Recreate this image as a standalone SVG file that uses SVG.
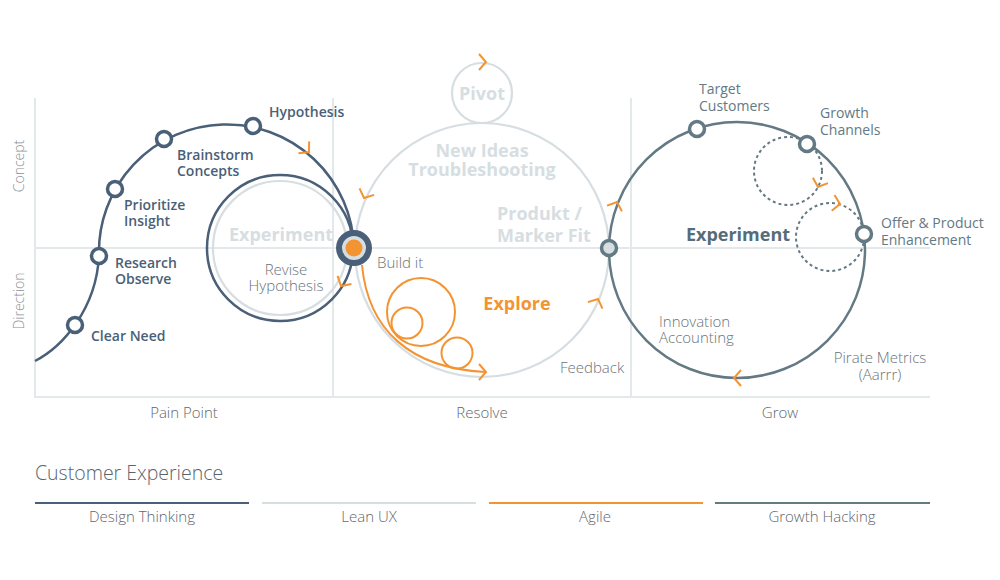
<svg xmlns="http://www.w3.org/2000/svg" xmlns:xlink="http://www.w3.org/1999/xlink" width="1000" height="580" viewBox="0 0 1000 580">
<style>
text{font-family:"Open Sans","Noto Sans","Liberation Sans",sans-serif}
.grid{stroke:#e3e8eb;stroke-width:2;fill:none}
.dt{stroke:#4a5f78;stroke-width:2.5;fill:none}
.lx{stroke:#d6dee2;stroke-width:2.2;fill:none}
.gh{stroke:#637983;stroke-width:2.5;fill:none}
.ag{stroke:#f39433;stroke-width:2;fill:none}
.dash{stroke:#637983;stroke-width:2;fill:none;stroke-dasharray:3 3}
.chev{stroke:#f39433;stroke-width:2;fill:none}
.lbl{font-size:14px;font-weight:600;fill:#4a5f78}
.rlbl{font-size:14px;font-weight:400;fill:#637983}
.thin{font-size:15px;font-weight:300;fill:#6a7378}
.big{font-size:18px;font-weight:700;fill:#d6dee2}
.axis{font-size:14px;font-weight:300;fill:#8a9095}
.foot{font-size:15px;font-weight:300;fill:#5f676c;text-anchor:middle}
.dn{fill:#fff;stroke:#4a5f78;stroke-width:3.5}
.gn{fill:#fff;stroke:#637983;stroke-width:3.5}
</style>
<defs>
<path id="chv" d="M-7,-8 L0,0 L-7,8"/>
</defs>
<g id="grid">
<line class="grid" x1="35" y1="98" x2="35" y2="397"/>
<line class="grid" x1="333" y1="98" x2="333" y2="397"/>
<line class="grid" x1="631" y1="98" x2="631" y2="397"/>
<line class="grid" x1="35" y1="248" x2="930" y2="248"/>
<line class="grid" x1="34" y1="397" x2="930" y2="397"/>
</g>
<g id="axis-labels">
<text class="axis" transform="translate(24,166) rotate(-90)" text-anchor="middle">Concept</text>
<text class="axis" transform="translate(24,301) rotate(-90)" text-anchor="middle">Direction</text>
<text class="foot" x="184" y="418">Pain Point</text>
<text class="foot" x="482" y="418">Resolve</text>
<text class="foot" x="780" y="418">Grow</text>
</g>
<g id="connectors">
<circle class="lx" cx="482" cy="250" r="127"/>
<circle class="lx" cx="482" cy="93" r="30"/>
<circle class="lx" cx="280" cy="248" r="67"/>
<circle class="dt" cx="280" cy="248" r="73"/>
<path class="dt" d="M35,361 C62,347 96,310 99,256 A127,127 0 1 1 354,248"/>
<circle class="gh" cx="737" cy="250" r="128"/>
<circle class="dash" cx="788" cy="171" r="34"/>
<circle class="dash" cx="830" cy="237" r="34"/>
<path class="ag" d="M362,265 C368,330 410,368 485,372"/>
<circle class="ag" cx="421" cy="312" r="34"/>
<circle class="ag" cx="407" cy="323" r="15.5"/>
<circle class="ag" cx="457" cy="353" r="15.5"/>
<use href="#chv" class="chev" transform="translate(486,372)"/>
<use href="#chv" class="chev" transform="translate(486,62)"/>
<use href="#chv" class="chev" transform="translate(309,152) rotate(42)"/>
<use href="#chv" class="chev" transform="translate(341,286) rotate(120)"/>
<use href="#chv" class="chev" transform="translate(364,198) rotate(114)"/>
<use href="#chv" class="chev" transform="translate(598,299) rotate(-66)"/>
<use href="#chv" class="chev" transform="translate(617,202) rotate(-69)"/>
<use href="#chv" class="chev" transform="translate(734,378) rotate(180)"/>
<use href="#chv" class="chev" transform="translate(818,187) rotate(110)"/>
<use href="#chv" class="chev" transform="translate(840,204) rotate(10)"/>
</g>
<g id="node-clear-need"><circle class="dn" cx="75" cy="325" r="7.5"/><text class="lbl" x="91" y="341">Clear Need</text></g>
<g id="node-research"><circle class="dn" cx="99" cy="256" r="7.5"/><text class="lbl" x="115" y="268">Research</text><text class="lbl" x="115" y="284">Observe</text></g>
<g id="node-prioritize"><circle class="dn" cx="115" cy="189" r="7.5"/><text class="lbl" x="124" y="210">Prioritize</text><text class="lbl" x="124" y="226">Insight</text></g>
<g id="node-brainstorm"><circle class="dn" cx="164" cy="139" r="7.5"/><text class="lbl" x="177" y="160">Brainstorm</text><text class="lbl" x="177" y="176">Concepts</text></g>
<g id="node-hypothesis"><circle class="dn" cx="253" cy="126" r="7.5"/><text class="lbl" x="269" y="117">Hypothesis</text></g>
<g id="experiment-left"><text class="big" x="281" y="241" text-anchor="middle">Experiment</text><text class="thin" x="286" y="275" text-anchor="middle">Revise</text><text class="thin" x="286" y="291" text-anchor="middle">Hypothesis</text></g>
<g id="node-build-it"><circle cx="354" cy="248" r="15" fill="#d6dee2" stroke="#4a5f78" stroke-width="6"/><circle cx="354" cy="248" r="8.5" fill="#f39433"/><text class="thin" x="377" y="268">Build it</text></g>
<g id="pivot"><text class="big" x="482" y="100" text-anchor="middle">Pivot</text></g>
<g id="new-ideas"><text class="big" x="482" y="157" text-anchor="middle">New Ideas</text><text class="big" x="482" y="176" text-anchor="middle">Troubleshooting</text></g>
<g id="produkt"><text class="big" x="497" y="220">Produkt /</text><text class="big" x="497" y="242">Marker Fit</text></g>
<g id="explore"><text x="517" y="310" text-anchor="middle" style="font-size:18px;font-weight:700;fill:#f39433">Explore</text></g>
<g id="feedback"><text class="thin" x="560" y="373">Feedback</text></g>
<g id="node-feedback"><circle cx="609" cy="248" r="7.5" fill="#d6dee2" stroke="#637983" stroke-width="3.5"/></g>
<g id="node-target"><circle class="gn" cx="697" cy="129" r="7.5"/><text class="rlbl" x="699" y="94">Target</text><text class="rlbl" x="699" y="111">Customers</text></g>
<g id="node-growth"><circle class="gn" cx="807" cy="144" r="7.5"/><text class="rlbl" x="820" y="118">Growth</text><text class="rlbl" x="820" y="135">Channels</text></g>
<g id="node-offer"><circle class="gn" cx="864" cy="234" r="7.5"/><text class="rlbl" x="881" y="228">Offer &amp; Product</text><text class="rlbl" x="881" y="245">Enhancement</text></g>
<g id="experiment-right"><text x="738" y="241" text-anchor="middle" style="font-size:18px;font-weight:700;fill:#566c78">Experiment</text></g>
<g id="innovation"><text class="thin" x="659" y="327">Innovation</text><text class="thin" x="659" y="343">Accounting</text></g>
<g id="pirate"><text class="thin" x="880" y="363" text-anchor="middle">Pirate Metrics</text><text class="thin" x="880" y="380" text-anchor="middle">(Aarrr)</text></g>
<g id="legend">
<text x="35" y="480" style="font-size:19.5px;font-weight:300;fill:#5a646b">Customer Experience</text>
<line x1="35" y1="503" x2="249" y2="503" stroke="#4a5f78" stroke-width="2"/>
<line x1="262" y1="503" x2="476" y2="503" stroke="#d6dee2" stroke-width="2"/>
<line x1="489" y1="503" x2="703" y2="503" stroke="#f39433" stroke-width="2"/>
<line x1="715" y1="503" x2="930" y2="503" stroke="#637983" stroke-width="2"/>
<text class="foot" x="142" y="522">Design Thinking</text>
<text class="foot" x="369" y="522">Lean UX</text>
<text class="foot" x="595" y="522">Agile</text>
<text class="foot" x="822" y="522">Growth Hacking</text>
</g>
</svg>
